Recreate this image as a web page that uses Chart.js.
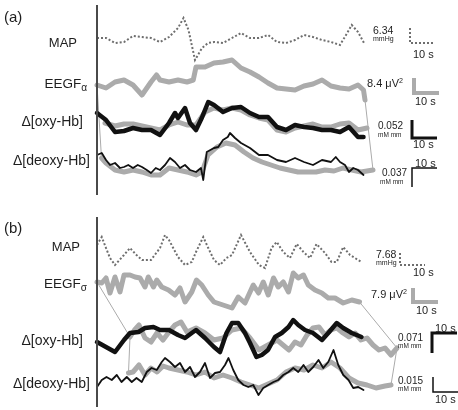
<!DOCTYPE html>
<html>
<head>
<meta charset="utf-8">
<script src="https://cdn.jsdelivr.net/npm/chart.js@4"></script>
<style>
  body { margin: 0; background: #fff; }
  #wrap { position: relative; width: 458px; height: 410px; font-family: "Liberation Sans", Arial, sans-serif; color: #1e1e1e; }
  #chart { position: absolute; left: 0; top: 0; }
  .lbl { position: absolute; white-space: nowrap; line-height: 1; transform: translateY(-50%); }
  .r { text-align: right; }
  sub { font-size: 0.75em; vertical-align: -0.25em; }
  sup { font-size: 0.65em; vertical-align: 0.5em; }
</style>
</head>
<body>
<div id="wrap">
  <canvas id="chart" width="458" height="410"></canvas>

  <div class="lbl" style="left:4px;top:16px;font-size:15px">(a)</div>
  <div class="lbl r" style="right:381px;top:42px;font-size:13px">MAP</div>
  <div class="lbl r" style="right:371px;top:85px;font-size:13.5px">EEGF<sub>α</sub></div>
  <div class="lbl r" style="right:375px;top:121px;font-size:14px">Δ[oxy-Hb]</div>
  <div class="lbl r" style="right:368px;top:160px;font-size:14px">Δ[deoxy-Hb]</div>

  <div class="lbl" style="left:373px;top:30px;font-size:10.5px">6.34</div>
  <div class="lbl" style="left:373px;top:38px;font-size:7px">mmHg</div>
  <div class="lbl" style="left:413px;top:54px;font-size:11px">10 s</div>
  <div class="lbl" style="left:367px;top:83px;font-size:11px">8.4 μV<sup>2</sup></div>
  <div class="lbl" style="left:415px;top:101px;font-size:11px">10 s</div>
  <div class="lbl" style="left:378px;top:126px;font-size:10px">0.052</div>
  <div class="lbl" style="left:378px;top:135px;font-size:6.5px">mM mm</div>
  <div class="lbl" style="left:413px;top:144px;font-size:11px">10 s</div>
  <div class="lbl" style="left:415px;top:163px;font-size:11px">10 s</div>
  <div class="lbl" style="left:382px;top:173px;font-size:10px">0.037</div>
  <div class="lbl" style="left:380px;top:182px;font-size:6.5px">mM mm</div>

  <div class="lbl" style="left:4px;top:227px;font-size:15px">(b)</div>
  <div class="lbl r" style="right:378px;top:246px;font-size:13px">MAP</div>
  <div class="lbl r" style="right:371px;top:285px;font-size:13.5px">EEGF<sub>σ</sub></div>
  <div class="lbl r" style="right:375px;top:340px;font-size:14px">Δ[oxy-Hb]</div>
  <div class="lbl r" style="right:368px;top:383px;font-size:14px">Δ[deoxy-Hb]</div>

  <div class="lbl" style="left:376px;top:254px;font-size:10.5px">7.68</div>
  <div class="lbl" style="left:376px;top:262px;font-size:7px">mmHg</div>
  <div class="lbl" style="left:413px;top:272px;font-size:11px">10 s</div>
  <div class="lbl" style="left:371px;top:294px;font-size:11px">7.9 μV<sup>2</sup></div>
  <div class="lbl" style="left:416px;top:310px;font-size:11px">10 s</div>
  <div class="lbl" style="left:435px;top:328px;font-size:11px">10 s</div>
  <div class="lbl" style="left:398px;top:338px;font-size:10px">0.071</div>
  <div class="lbl" style="left:398px;top:346px;font-size:6.5px">mM mm</div>
  <div class="lbl" style="left:398px;top:381px;font-size:10px">0.015</div>
  <div class="lbl" style="left:398px;top:389px;font-size:6.5px">mM mm</div>
  <div class="lbl" style="left:435px;top:399px;font-size:11px">10 s</div>
</div>

<script>
// traces: time in s, value = deflection in arbitrary units (positive up)

// ---- panel (a)
const mapATime = [0,3.6,7.2,10.8,14.4,18,21.6,25.2,28.8,32.4,34.6,36.6,39.2,42,44.4,46.8,50.4,54,57.6,61.2,64.8,68.4,72,75.6,79.2,82.8,86.4,90,93.6,97.2,99.6,101.9,104.4,106.8];
const mapAVal = [2,2,-3,-2,4,3,2,-2,3,12,22,10,-20,-8,-3,-2,-3,2,7,2,2,5,-2,-3,0,5,3,0,-2,-5,5,15,8,-3];

const eegATime = [0,3.6,7.2,10.8,14.4,18,21.6,23.8,25.2,28.8,32.4,36,38.5,39.6,43.2,46.8,50.4,54,57.6,61.2,64.8,68.4,72,75.6,79.2,82.8,86.4,90,93.6,97.2,100.8,104.4,106.6,107.2];
const eegAVal = [0,-3,3,5,0,-10,3,10,5,3,5,3,5,18,18,22,23,25,17,13,8,2,-3,-4,-5,-1,1,5,-1,-3,-4,0,-5,-15];

const oxyATime = [0,3.6,7.2,10.8,14.4,18,21.6,25.2,28.8,31.2,32.4,35.2,37.2,39.6,41.9,44.5,46.8,50.4,54,57.6,61.2,64.8,68.4,72,75.6,79.2,82.8,86.4,90,93.6,97.2,100.8,104.4,106.6];
const oxyAVal = [12,5,-7,-6,-3,-5,-5,-10,2,12,7,17,2,-5,7,23,20,13,17,18,12,8,8,-2,-5,0,-2,-3,-5,-5,-7,-2,-12,-12];

const oxyAFitTime = [3.2,7.2,10.8,14.4,18,21.6,25.2,28.8,32.4,36,39.6,43.2,46.8,50.4,54,57.6,61.2,64.8,68.4,72,75.6,79.2,82.8,86.4,90,93.6,97.2,100.8,104.4,108];
const oxyAFitVal = [2,-1,1,1,-1,-3,-5,0,3,0,0,13,17,15,17,15,10,7,5,-5,-7,-3,-1,1,-2,-2,1,2,-5,-3];

const deoxyATime = [0,1.9,3.6,5.2,7.2,9.2,10.8,12.5,14.4,16.3,18,19.9,21.6,23.5,25.2,27.2,29.2,31.2,33.2,35.2,37.2,39.6,41.6,42.5,43.9,46.8,48.5,50.4,52.3,53.2,55.2,57.6,61.2,64.8,68.4,72,75.6,79.2,82.8,86.4,90,93.6,95.5,97.2,99.2,100.8,102.5,104.4,106.6];
const deoxyAVal = [5,7,0,-5,-3,-8,-7,-5,-8,-5,-7,-10,-13,-8,-10,-5,2,-2,-8,-5,-10,-12,-8,-20,8,12,13,20,23,27,22,17,12,5,5,0,-2,2,-2,-5,0,-2,3,-2,-5,-12,-8,-10,-15];

const deoxyAFitTime = [1.8,3.6,7.2,10.8,14.4,18,21.6,25.2,28.8,32.4,36,39.6,42,44.4,48,51.6,55.2,58.8,62.4,66,69.6,73.2,76.8,80.4,84,87.6,91.2,94.8,98.4,102,105.6,110.4];
const deoxyAFitVal = [2,-3,-10,-12,-10,-12,-15,-15,-8,-10,-12,-15,-12,5,13,17,15,8,2,-2,-5,-8,-10,-12,-12,-12,-10,-11,-8,-10,-12,-10];

// ---- panel (b)
const mapBTime = [0,1.9,3.6,5.2,7.2,10.8,13.2,15.8,18,21.6,25.2,27.2,28.8,32.4,35.2,37.9,39.6,42.5,44.5,46.8,49.2,51.8,54,57.6,61.2,64.8,67.2,69.8,71.9,74.5,77.2,79.9,82.6,85.2,87.8,91.2,93.8,95.9,98.5,101.2,105.8];
const mapBVal = [7,15,4,-6,-13,-3,4,-3,-8,-8,4,17,12,-5,-13,-10,0,15,4,-8,-13,-6,-3,17,0,-13,-16,4,10,0,-6,8,0,-6,8,-1,-10,-10,5,-3,-10];

const eegBTime = [0,1.9,3.6,5.2,7.2,9.2,10.8,13.2,15.2,17.2,19.2,20.5,22.6,23.9,25.9,28.6,31.2,33.2,35.2,37.9,39.8,41.9,44.5,46.8,50.4,54,56.5,59.2,62.5,64.6,66.5,68.5,70.6,72.5,74.5,76.6,78.5,80.5,82.6,84.5,87.2,89.9,92.5,95.2,98.5,101.9,105];
const eegBVal = [8,7,12,-3,13,-2,15,15,13,12,3,13,3,10,3,0,-5,2,-12,-2,10,5,-5,-12,-15,-18,-7,-13,5,-3,8,-5,12,3,8,-2,17,12,15,5,0,-3,-8,-8,-13,-10,-12];

const oxyBTime = [0,3.6,7.2,10.8,13.2,16.6,19.2,22.6,25.2,28.8,32.4,35.2,37.9,39.6,43.2,46.8,49.2,51.8,54,56.5,59.2,61.2,63.8,65.9,68.4,71.2,73.9,76.6,78.5,80.5,83.2,86.4,90,92.5,95.9,98.5,101.9,105.8];
const oxyBVal = [-7,-12,-17,-5,2,3,7,8,5,5,0,-3,2,5,-3,-12,-17,2,12,12,2,-8,-22,-20,-15,-2,2,8,15,10,5,2,-5,2,12,7,2,-2];

const oxyBFitTime = [13.2,15,16.8,19.2,21.6,24,26.4,28.8,31.2,33.6,36,39.6,43.2,46.8,50.4,54,57.6,61.2,64.8,68.4,72,74.4,76.8,79.2,81.6,84,86.4,88.8,91.2,93.6,96,98.4,100.8,103.2,105.6,108,110.4,112.8,115.2,117.6,120];
const oxyBFitVal = [-2,5,10,-3,-7,2,-5,3,10,13,3,7,2,-5,-3,5,7,-3,-15,-10,-5,-10,-15,-7,-10,0,7,8,0,5,7,2,-2,2,-5,-3,-10,-15,-13,-20,-13];

const deoxyBTime = [0,1.9,3.8,5.9,7.9,9.8,11.9,13.9,15.8,17.9,19.9,21.8,23.9,25.9,27.2,29.2,31.2,33.2,35.2,37.2,39.2,41.2,43.2,45.2,47.2,49.2,51.2,52.6,54.5,56.5,58.6,60.5,62.5,64.6,66.5,68.5,70.6,72.5,74.5,76.6,78.5,80.5,82.6,84.5,86.5,88.6,90.5,92.5,94.6,96.5,98.5,100.6,102.5,104.5,106.6];
const deoxyBVal = [-12,-5,-2,-5,0,-7,-2,-7,-3,-7,3,7,5,13,17,13,8,12,3,8,-2,3,12,-3,2,3,10,17,5,-5,-10,-12,-10,-20,-13,-10,-7,-5,0,3,7,3,10,3,8,15,7,13,25,10,0,-5,-13,-12,-15];

const deoxyBFitTime = [12.6,14.4,16.8,19.2,21.6,24,26.4,28.8,32.4,36,39.6,43.2,46.8,50.4,54,57.6,61.2,64.8,68.4,72,75.6,79.2,82.8,86.4,90,93.6,97.2,100.8,104.4,108,111.6,115.2,117.6];
const deoxyBFitVal = [2,3,10,0,7,3,9,7,5,3,0,3,-3,0,-3,-7,-10,-13,-9,-5,3,7,5,10,7,13,7,-3,-8,-10,-13,-11,-10];

// stacking offsets of the traces (arbitrary units)
const offsets = { mapA: 370, eegA: 325, oxyA: 285, deoxyA: 250, mapB: 158, eegB: 120, oxyB: 75, deoxyB: 35 };
const panelA = [215, 405];
const panelB = [3, 193];

// scale bars: corner time, corner level, vertical length
const barLen = 10; // 10 s
const scaleBars = {
  mapA:   { t: 125.2, level: -3,  v: 15 },
  eegA:   { t: 126.8, level: -8,  v: 15 },
  oxyA:   { t: 126,   level: -13, v: 18 },
  deoxyA: { t: 126,   level: -8,  v: -19 },
  mapB:   { t: 121.2, level: -13, v: 12 },
  eegB:   { t: 126.4, level: -12, v: 14 },
  oxyB:   { t: 134,   level: 2,   v: -20 },
  deoxyB: { t: 134.4, level: -17, v: 15 }
};

const GRAY = '#ababab';
const BLACK = '#111';
const MAPC = '#6e6e6e';

function pts(times, vals, off) {
  return times.map((t, i) => ({ x: t, y: off + vals[i] }));
}

function line(data, color, width, order, extra) {
  return Object.assign({
    data, borderColor: color, borderWidth: width, order,
    pointRadius: 0, fill: false, tension: 0,
    borderJoinStyle: 'round', borderCapStyle: 'round'
  }, extra || {});
}

function bar(key, color, width, extra) {
  const b = scaleBars[key];
  const y0 = offsets[key] + b.level;
  return line([
    { x: b.t, y: y0 + b.v },
    { x: b.t, y: y0 },
    { x: b.t + barLen, y: y0 }
  ], color, width, 0, Object.assign({ borderCapStyle: 'butt', borderJoinStyle: 'miter' }, extra || {}));
}

const eegA = pts(eegATime, eegAVal, offsets.eegA);
const oxyAFit = pts(oxyAFitTime, oxyAFitVal, offsets.oxyA);
const deoxyAFit = pts(deoxyAFitTime, deoxyAFitVal, offsets.deoxyA);
const eegB = pts(eegBTime, eegBVal, offsets.eegB);
const oxyBFit = pts(oxyBFitTime, oxyBFitVal, offsets.oxyB);
const deoxyBFit = pts(deoxyBFitTime, deoxyBFitVal, offsets.deoxyB);

const dotted = { borderDash: [2, 2], borderCapStyle: 'butt', borderJoinStyle: 'miter' };

const datasets = [
  // axes
  line([{ x: 0, y: panelA[0] }, { x: 0, y: panelA[1] }], '#4a4a4a', 2, 0, { borderCapStyle: 'butt' }),
  line([{ x: 0, y: panelB[0] }, { x: 0, y: panelB[1] }], '#4a4a4a', 2, 0, { borderCapStyle: 'butt' }),

  // measured
  line(pts(oxyATime, oxyAVal, offsets.oxyA), BLACK, 4.5, 1),
  line(pts(deoxyATime, deoxyAVal, offsets.deoxyA), BLACK, 1.8, 1),
  line(pts(oxyBTime, oxyBVal, offsets.oxyB), BLACK, 4.5, 1),
  line(pts(deoxyBTime, deoxyBVal, offsets.deoxyB), BLACK, 1.8, 1),
  line(pts(mapATime, mapAVal, offsets.mapA), MAPC, 2, 2, dotted),
  line(pts(mapBTime, mapBVal, offsets.mapB), MAPC, 2, 2, dotted),

  // gray traces
  line(eegA, GRAY, 5, 3),
  line(oxyAFit, GRAY, 5, 3),
  line(deoxyAFit, GRAY, 5, 3),
  line(eegB, GRAY, 5, 3),
  line(oxyBFit, GRAY, 5, 3),
  line(deoxyBFit, GRAY, 5, 3),

  // thin connectors between the gray traces
  line([eegA[0], deoxyAFit[0]], GRAY, 1, 4),
  line([eegA[eegA.length - 1], deoxyAFit[deoxyAFit.length - 1]], GRAY, 1, 4),
  line([eegB[0], oxyBFit[0], deoxyBFit[0]], GRAY, 1, 4),
  line([eegB[eegB.length - 1], oxyBFit[oxyBFit.length - 1], deoxyBFit[deoxyBFit.length - 1]], GRAY, 1, 4),

  // scale bars
  bar('mapA', MAPC, 2, { borderDash: [2, 2] }),
  bar('eegA', GRAY, 4),
  bar('oxyA', BLACK, 3),
  bar('deoxyA', BLACK, 1.5),
  bar('mapB', MAPC, 2, { borderDash: [2, 2] }),
  bar('eegB', GRAY, 4),
  bar('oxyB', BLACK, 3),
  bar('deoxyB', BLACK, 1.5)
];

new Chart(document.getElementById('chart'), {
  type: 'line',
  data: { datasets },
  options: {
    responsive: false,
    animation: false,
    events: [],
    layout: { padding: 0 },
    plugins: { legend: { display: false }, tooltip: { enabled: false } },
    scales: {
      x: { type: 'linear', display: false, min: -38.8, max: 144.4 },
      y: { type: 'linear', display: false, min: 0, max: 410 }
    }
  }
});
</script>
</body>
</html>
